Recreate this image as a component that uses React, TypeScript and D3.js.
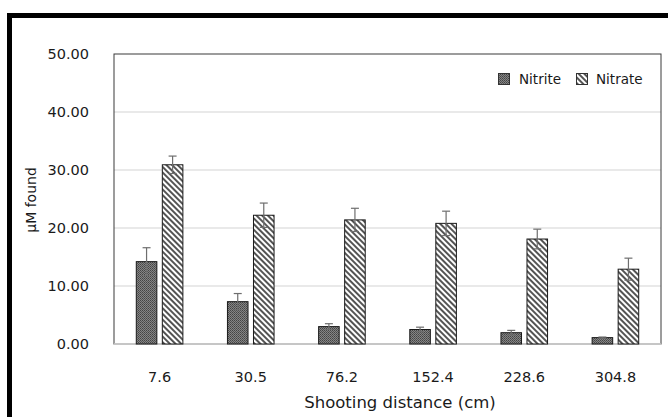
import React from "react";
import * as d3 from "d3";

const categories = ["7.6", "30.5", "76.2", "152.4", "228.6", "304.8"];
const seriesNames = ["Nitrite", "Nitrate"];
const nitrite = [14.2, 7.3, 3.0, 2.5, 1.95, 1.1];
const nitriteErr = [2.4, 1.4, 0.5, 0.4, 0.4, 0.1];
const nitrate = [30.9, 22.2, 21.4, 20.8, 18.1, 12.9];
const nitrateErr = [1.5, 2.1, 2.0, 2.1, 1.7, 1.9];
const yTicks = [0, 10, 20, 30, 40, 50];

const W = 668;
const H = 417;
const plot = { left: 114, right: 661, top: 54, bottom: 344 };
const FONT = "'DejaVu Sans', sans-serif";

export default function App() {
  const x0 = d3.scaleBand<string>().domain(categories).range([plot.left, plot.right]).padding(0);
  const groupW = 46.6;
  const x1 = d3
    .scaleBand<string>()
    .domain(seriesNames)
    .range([x0.bandwidth() / 2 - groupW / 2, x0.bandwidth() / 2 + groupW / 2])
    .paddingInner(0.21)
    .paddingOuter(0);
  const y = d3.scaleLinear().domain([0, 50]).range([plot.bottom, plot.top]);

  const series = [
    { name: "Nitrite", values: nitrite, errs: nitriteErr, fill: "url(#pat-nitrite)" },
    { name: "Nitrate", values: nitrate, errs: nitrateErr, fill: "url(#pat-nitrate)" },
  ];

  const errColor = "#6e6e6e";
  const capHalf = 4;

  return (
    <svg
      width={W}
      height={H}
      style={{ position: "absolute", left: 0, top: 0, background: "#fff" }}
      fontFamily={FONT}
    >
      <defs>
        <pattern id="pat-nitrite" width="2" height="2" patternUnits="userSpaceOnUse">
          <rect width="2" height="2" fill="#858585" />
          <rect width="1" height="1" fill="#444" />
          <rect x="1" y="1" width="1" height="1" fill="#555" />
        </pattern>
        <pattern
          id="pat-nitrate"
          width="4"
          height="4"
          patternUnits="userSpaceOnUse"
          patternTransform="rotate(-45)"
        >
          <rect width="4" height="4" fill="#fff" />
          <line x1="1" y1="0" x2="1" y2="4" stroke="#1a1a1a" strokeWidth="1.5" />
        </pattern>
      </defs>

      <rect x={0} y={0} width={W} height={H} fill="#fff" />

      {/* outer frame */}
      <rect x={9.5} y={15.5} width={W + 20} height={H + 20} fill="none" stroke="#000" strokeWidth={5} />

      {/* gridlines */}
      {yTicks.slice(1, -1).map((t) => (
        <line
          key={t}
          x1={plot.left}
          x2={plot.right}
          y1={y(t)}
          y2={y(t)}
          stroke="#d4d4d4"
          strokeWidth={1.2}
        />
      ))}

      {/* plot area border */}
      <rect
        x={plot.left}
        y={plot.top}
        width={plot.right - plot.left}
        height={plot.bottom - plot.top}
        fill="none"
        stroke="#3a3a3a"
        strokeWidth={1}
      />
      <line x1={plot.left} x2={plot.right} y1={plot.bottom} y2={plot.bottom} stroke="#d4d4d4" strokeWidth={1.5} />

      {/* bars */}
      {series.map((s) =>
        categories.map((c, i) => {
          const bx = (x0(c) ?? 0) + (x1(s.name) ?? 0);
          const bw = x1.bandwidth();
          const top = y(s.values[i]);
          return (
            <rect
              key={s.name + c}
              x={bx}
              y={top}
              width={bw}
              height={y(0) - top}
              fill={s.fill}
              stroke="#1a1a1a"
              strokeWidth={1}
            />
          );
        })
      )}

      {/* error bars */}
      {series.map((s) =>
        categories.map((c, i) => {
          const cx = (x0(c) ?? 0) + (x1(s.name) ?? 0) + x1.bandwidth() / 2;
          const hi = y(s.values[i] + s.errs[i]);
          const lo = y(s.values[i] - s.errs[i]);
          return (
            <g key={"e" + s.name + c} stroke={errColor} strokeWidth={1.2}>
              <line x1={cx} x2={cx} y1={hi} y2={lo} />
              <line x1={cx - capHalf} x2={cx + capHalf} y1={hi} y2={hi} />
              <line x1={cx - capHalf} x2={cx + capHalf} y1={lo} y2={lo} />
            </g>
          );
        })
      )}

      {/* y tick labels */}
      {yTicks.map((t) => (
        <text
          key={t}
          x={89}
          y={y(t)}
          dy="0.36em"
          textAnchor="end"
          fontSize={14.5}
          fill="#1a1a1a"
        >
          {t.toFixed(2)}
        </text>
      ))}

      {/* x tick labels */}
      {categories.map((c) => (
        <text
          key={c}
          x={(x0(c) ?? 0) + x0.bandwidth() / 2}
          y={382}
          textAnchor="middle"
          fontSize={14.5}
          fill="#1a1a1a"
        >
          {c}
        </text>
      ))}

      {/* axis titles */}
      <text x={400} y={408} textAnchor="middle" fontSize={16.5} fill="#1a1a1a">
        Shooting distance (cm)
      </text>
      <text
        transform="translate(36,200) rotate(-90)"
        textAnchor="middle"
        fontSize={14}
        fill="#1a1a1a"
      >
        μM found
      </text>

      {/* legend */}
      <rect x={498.5} y={73.5} width={11} height={11} fill="url(#pat-nitrite)" stroke="#333" strokeWidth={1} />
      <text x={519} y={84} fontSize={13.5} fill="#1a1a1a">
        Nitrite
      </text>
      <rect x={576.5} y={73.5} width={11} height={11} fill="url(#pat-nitrate)" stroke="#333" strokeWidth={1} />
      <text x={596} y={84} fontSize={13.5} fill="#1a1a1a">
        Nitrate
      </text>
    </svg>
  );
}
